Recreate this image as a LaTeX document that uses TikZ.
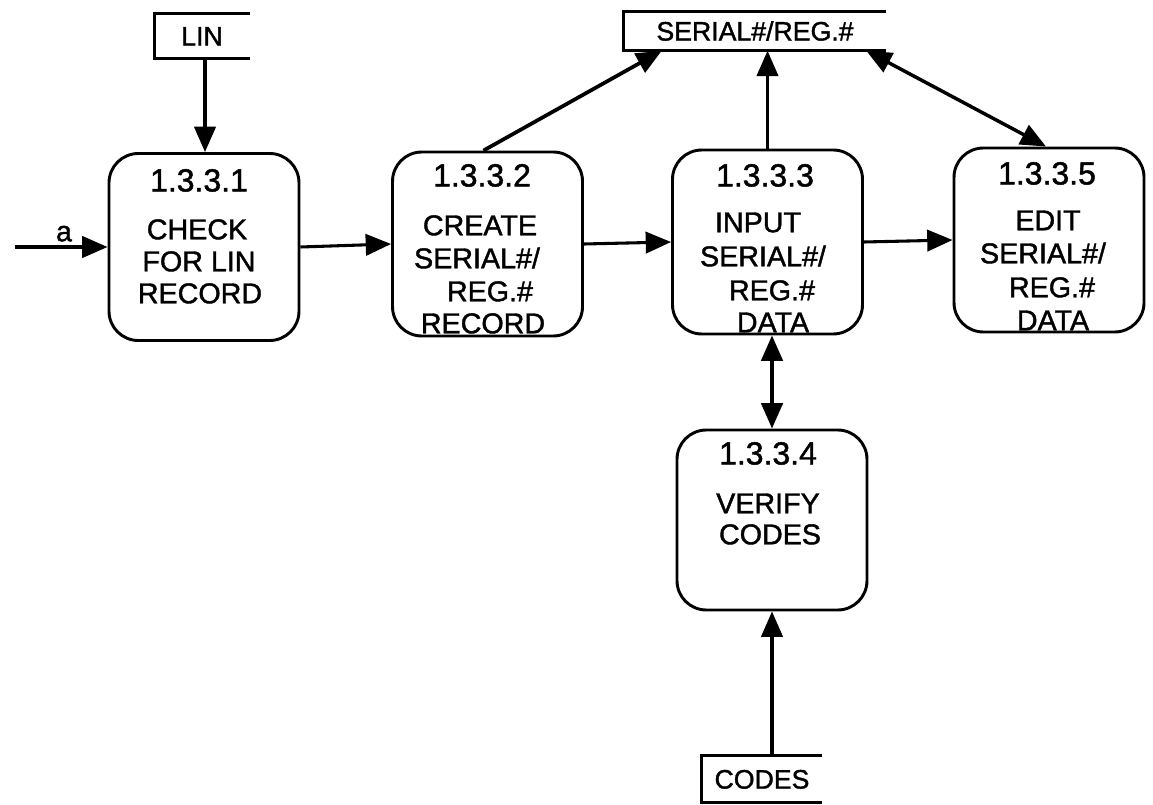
\documentclass[tikz,border=0pt]{standalone}
\usepackage{fontspec}
\setmainfont{Liberation Sans}
\newfontfamily\flowfont{Liberation Sans}[FakeBold=1.4]
\usetikzlibrary{arrows.meta,calc}
\begin{document}
\begin{tikzpicture}[x=0.75pt,y=-0.75pt,
  proc/.style={draw, line width=2.2pt, rounded corners=22pt, inner sep=0pt,
    minimum width=142.5pt, minimum height=138pt},
  store/.style={inner sep=0pt, font=\flowfont\fontsize{20}{24}\selectfont,
    text height=14.3pt, text depth=0pt},
  lbl/.style={inner sep=0pt, font=\flowfont\fontsize{21.5}{26}\selectfont,
    text height=15.4pt, text depth=0pt},
  num/.style={inner sep=0pt, font=\flowfont\fontsize{24}{28}\selectfont,
    text height=17.2pt, text depth=0pt},
  flow/.style={line width=2.3pt, -{Triangle[length=19pt,width=16pt]}},
  both/.style={line width=2.6pt, {Triangle[length=19pt,width=16pt]}-{Triangle[length=19pt,width=16pt]}},
  shelf/.style={line width=2pt}]
\useasboundingbox (0,0) rectangle (1153,805);

% data stores (open on the right)
\node[store, minimum width=71.25pt, minimum height=33.75pt] (lin) at (202,36) {LIN};
\node[store, minimum width=196.5pt, minimum height=29.25pt] (serial) at (755,31) {SERIAL\#/REG.\#};
\node[store, minimum width=90pt, minimum height=35.25pt] (codes) at (762,779) {CODES};
\foreach \s in {lin,serial,codes}
  \draw[shelf] (\s.north east) -- (\s.north west) -- (\s.south west) -- (\s.south east);

% processes
\node[proc, minimum height=140.25pt] (b1) at (204,247) {};
\node[proc] (b2) at (487.5,244) {};
\node[proc] (b3) at (767.5,242) {};
\node[proc, minimum height=135pt] (b4) at (772,520) {};
\node[proc] (b5) at (1049,240) {};

\node[num] (n1) at (199,180) {1.3.3.1};
\node[lbl] (t1a) at (197,229) {CHECK};
\node[lbl] (t1b) at (199,261) {FOR LIN};
\node[lbl] (t1c) at (200,293) {RECORD};

\node[num] (n2) at (482,175) {1.3.3.2};
\node[lbl] (t2a) at (480,225) {CREATE};
\node[lbl] (t2b) at (477,258) {SERIAL\#/};
\node[lbl] (t2c) at (490,291) {REG.\#};
\node[lbl] (t2d) at (483,323) {RECORD};

\node[num] (n3) at (765,175) {1.3.3.3};
\node[lbl] (t3a) at (758,222) {INPUT};
\node[lbl] (t3b) at (763,256) {SERIAL\#/};
\node[lbl] (t3c) at (772,290) {REG.\#};
\node[lbl] (t3d) at (773,322) {DATA};

\node[num] (n4) at (768,453) {1.3.3.4};
\node[lbl] (t4a) at (768,503) {VERIFY};
\node[lbl] (t4b) at (770,534) {CODES};

\node[num] (n5) at (1047,173) {1.3.3.5};
\node[lbl] (t5a) at (1048,220) {EDIT};
\node[lbl] (t5b) at (1043,253) {SERIAL\#/};
\node[lbl] (t5c) at (1052,287) {REG.\#};
\node[lbl] (t5d) at (1053,320) {DATA};

% flows
\coordinate (ain) at (15,247);
\coordinate (linout) at ($(lin.south)+(3,0)$);
\node[lbl] (a) at (64,231) {a};
\draw[flow] (ain) -- (b1.west);
\draw[flow] (linout) -- (linout |- b1.north);
\draw[flow] (b1.east) -- (b2.west);
\draw[flow] (b2.east) -- (b3.west);
\draw[flow] (b3.east) -- (b5.west);
\draw[flow, line width=2.8pt] ($(b2.north)+(-4,0)$) -- ($(serial.south west)+(38,0)$);
\draw[flow] (b3.north) -- (b3.north |- serial.south);
\draw[both] ($(serial.south east)+(-20,0)$) -- ($(b5.north)+(-3,0)$);
\draw[both] (b4.north |- b3.south) -- (b4.north);
\draw[flow] (codes.north -| b4.south) -- (b4.south);
\end{tikzpicture}
\end{document}
